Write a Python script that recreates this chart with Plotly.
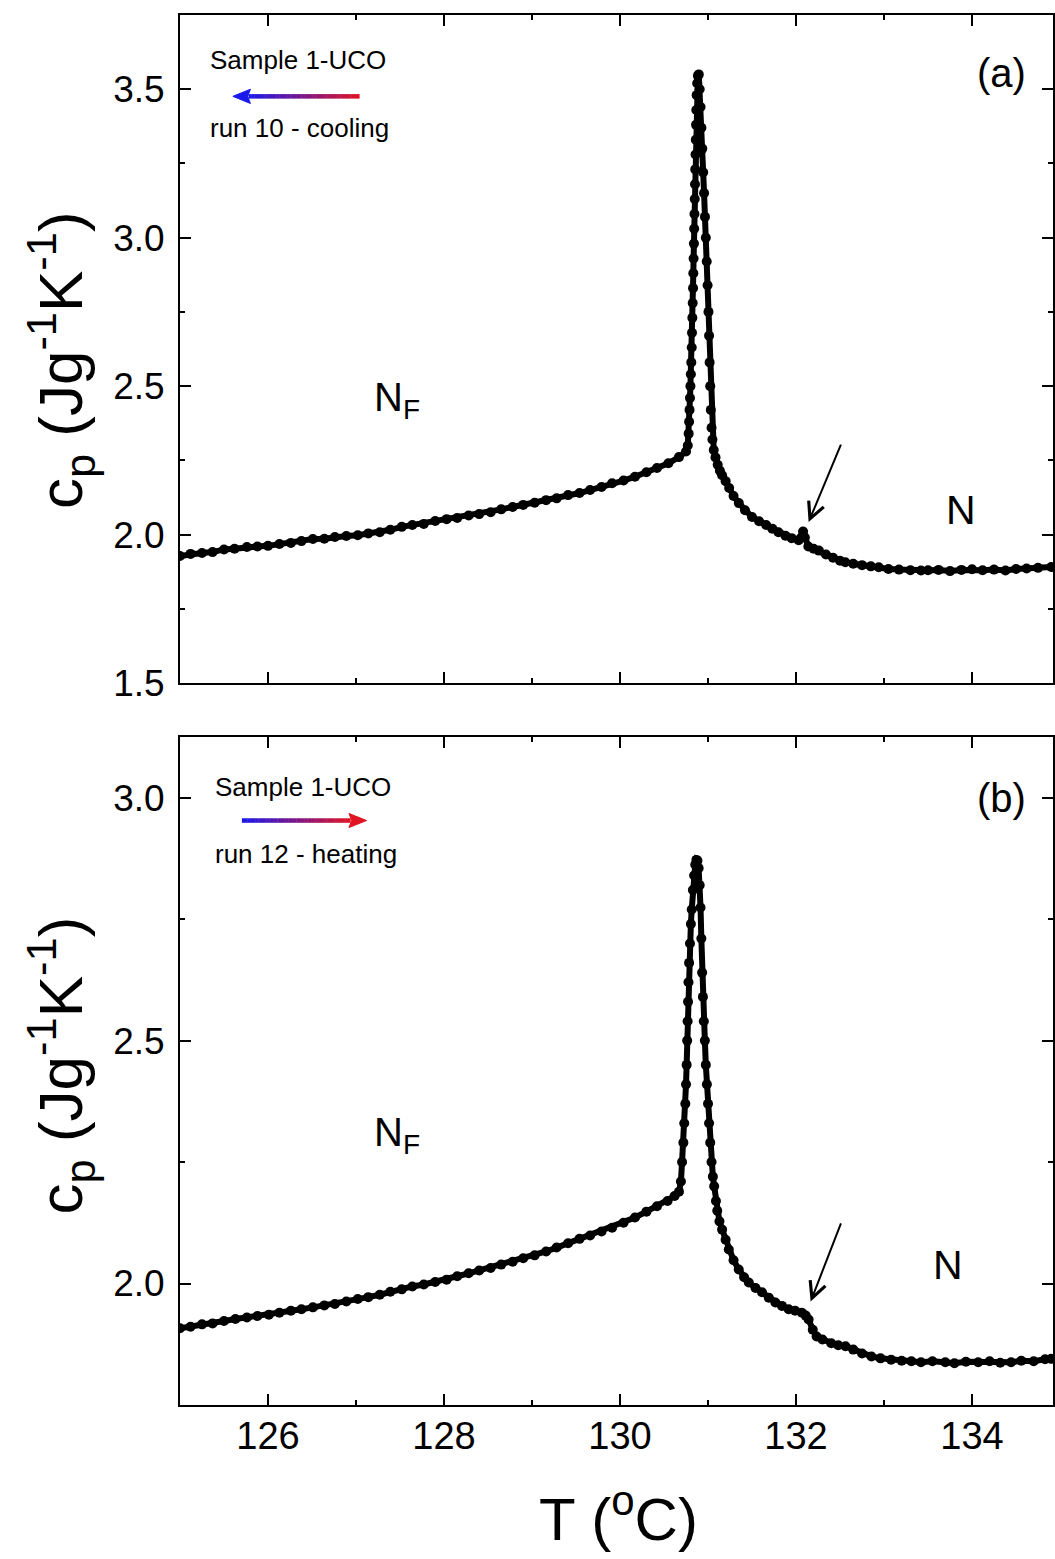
import plotly.graph_objects as go

# ---------------- data ----------------
T_a = [125.00,125.12,125.25,125.37,125.50,125.62,125.76,125.88,126.00,126.13,126.26,126.38,126.51,126.64,
       126.76,126.89,127.02,127.14,127.27,127.39,127.52,127.64,127.77,127.90,128.03,128.15,128.28,128.40,
       128.53,128.65,128.78,128.90,129.03,129.16,129.28,129.41,129.54,129.66,129.79,129.91,130.04,130.17,
       130.30,130.42,130.55,130.67,130.75,130.77,
       130.780,130.785,130.790,130.795,130.800,130.805,130.810,130.815,130.818,130.822,130.826,130.830,
       130.833,130.836,130.840,130.843,130.846,130.849,130.852,130.855,130.858,130.861,130.864,130.867,
       130.871,130.877,130.885,130.895,
       130.905,130.915,130.925,130.935,130.945,130.955,130.965,130.975,130.985,130.995,131.005,131.012,
       131.018,131.025,131.032,131.040,131.050,131.065,131.085,131.110,131.135,131.160,131.200,131.240,
       131.290,131.350,131.420,131.500,131.580,131.660,131.730,131.800,131.880,131.950,132.030,132.060,
       132.080,132.100,132.140,132.200,132.260,132.340,132.420,132.500,132.560,132.650,132.750,132.850,
       132.940,133.050,133.170,133.300,133.420,133.500,133.620,133.750,133.880,134.000,134.120,134.250,
       134.380,134.500,134.620,134.750,134.900]
cp_a = [1.928,1.935,1.938,1.941,1.950,1.952,1.958,1.960,1.962,1.968,1.972,1.978,1.985,1.986,
        1.992,1.995,1.998,2.004,2.008,2.016,2.026,2.032,2.036,2.046,2.052,2.056,2.064,2.069,
        2.075,2.085,2.093,2.100,2.107,2.116,2.122,2.133,2.140,2.150,2.160,2.173,2.182,2.195,
        2.210,2.224,2.240,2.261,2.280,2.300,
        2.34,2.38,2.42,2.46,2.50,2.54,2.58,2.63,2.68,2.73,2.78,2.83,
        2.88,2.93,2.98,3.03,3.08,3.13,3.18,3.23,3.28,3.33,3.38,3.43,
        3.48,3.52,3.545,3.550,
        3.50,3.44,3.37,3.30,3.22,3.15,3.07,3.00,2.92,2.84,2.75,2.67,
        2.58,2.50,2.42,2.36,2.32,2.285,2.260,2.235,2.215,2.200,2.180,2.157,
        2.130,2.106,2.082,2.059,2.045,2.032,2.020,2.008,1.996,1.988,1.981,1.990,
        2.010,1.990,1.960,1.952,1.946,1.933,1.922,1.912,1.907,1.902,1.897,1.893,
        1.890,1.884,1.882,1.880,1.879,1.880,1.881,1.877,1.881,1.883,1.880,1.882,
        1.879,1.884,1.886,1.888,1.891]

T_b = [125.00,125.12,125.25,125.37,125.50,125.63,125.76,125.88,126.01,126.13,126.26,126.38,126.51,126.64,
       126.76,126.89,127.02,127.14,127.27,127.39,127.52,127.64,127.77,127.90,128.03,128.15,128.28,128.40,
       128.53,128.65,128.78,128.90,129.03,129.16,129.28,129.41,129.54,129.66,129.79,129.91,130.04,130.17,
       130.30,130.42,130.54,130.62,130.67,
       130.692,130.705,130.720,130.730,130.742,130.750,130.757,130.763,130.768,130.773,130.778,130.785,
       130.795,130.805,130.815,130.828,130.842,130.855,130.868,130.880,130.893,
       130.905,130.915,130.924,130.933,130.942,130.952,130.964,130.975,130.987,131.000,131.012,131.025,
       131.040,131.055,131.070,131.090,131.105,131.130,131.160,131.200,131.236,131.290,131.349,131.410,
       131.463,131.540,131.613,131.690,131.765,131.840,131.916,131.990,132.067,132.110,132.143,132.190,
       132.234,132.300,132.400,132.480,132.562,132.650,132.750,132.857,132.960,133.080,133.200,133.311,
       133.420,133.550,133.696,133.800,133.930,134.070,134.200,134.320,134.444,134.560,134.700,134.830,
       134.900]
cp_b = [1.908,1.911,1.916,1.918,1.923,1.927,1.930,1.933,1.936,1.940,1.944,1.947,1.951,1.955,
        1.958,1.963,1.968,1.972,1.977,1.983,1.988,1.994,1.998,2.003,2.008,2.015,2.021,2.027,
        2.032,2.039,2.045,2.052,2.058,2.066,2.074,2.083,2.092,2.099,2.107,2.115,2.125,2.136,
        2.148,2.159,2.170,2.180,2.189,
        2.21,2.25,2.29,2.33,2.37,2.41,2.45,2.50,2.54,2.58,2.62,2.66,
        2.70,2.74,2.77,2.81,2.84,2.862,2.872,2.870,2.855,
        2.82,2.774,2.71,2.64,2.59,2.54,2.50,2.45,2.41,2.37,2.33,2.29,
        2.25,2.22,2.20,2.170,2.150,2.128,2.111,2.090,2.070,2.048,2.029,2.013,
        2.002,1.991,1.982,1.971,1.961,1.954,1.947,1.944,1.940,1.934,1.926,1.905,
        1.891,1.885,1.877,1.873,1.871,1.864,1.856,1.850,1.846,1.843,1.841,1.840,
        1.838,1.840,1.838,1.836,1.839,1.838,1.840,1.837,1.838,1.841,1.840,1.844,
        1.845]

x_ticks = [126, 128, 130, 132, 134]
x_range = [125, 134.92]
ya_range = [1.5, 3.75]
yb_range = [1.75, 3.125]

FONT = "Liberation Sans, Arial, sans-serif"

fig = go.Figure()
mk = dict(color="black", size=10)
ln = dict(color="black", width=6)
fig.add_trace(go.Scatter(x=T_a, y=cp_a, mode="lines+markers", marker=mk, line=ln,
                         xaxis="x", yaxis="y", showlegend=False))
fig.add_trace(go.Scatter(x=T_b, y=cp_b, mode="lines+markers", marker=mk, line=ln,
                         xaxis="x2", yaxis="y2", showlegend=False))

axis_common = dict(showline=True, linewidth=2, linecolor="black", mirror="allticks",
                   ticks="inside", ticklen=11, tickwidth=2, tickcolor="black",
                   showgrid=False, zeroline=False,
                   tickfont=dict(family=FONT, size=37, color="black"))

fig.update_layout(
    width=1055, height=1559,
    margin=dict(l=180, r=0, t=15, b=154),
    plot_bgcolor="white", paper_bgcolor="white",
    xaxis=dict(axis_common, domain=[0, 1], anchor="y", range=x_range, tickvals=x_ticks,
               showticklabels=False,
               minor=dict(ticks="inside", ticklen=5, tickwidth=1.5, tickcolor="black", dtick=1, tick0=125)),
    yaxis=dict(axis_common, domain=[0.5194, 1], anchor="x", range=ya_range, tick0=1.5, dtick=0.5,
               tickformat=".1f", ticklabelstandoff=6,
               minor=dict(ticks="inside", ticklen=5, tickwidth=1.5, tickcolor="black", dtick=0.25, tick0=1.5)),
    xaxis2=dict(axis_common, domain=[0, 1], anchor="y2", range=x_range, tickvals=x_ticks,
                showticklabels=True, ticklabelstandoff=-4,
                tickfont=dict(family=FONT, size=38, color="black"),
                minor=dict(ticks="inside", ticklen=5, tickwidth=1.5, tickcolor="black", dtick=1, tick0=125)),
    yaxis2=dict(axis_common, domain=[0, 0.4806], anchor="x2", range=yb_range, tick0=2.0, dtick=0.5,
                tickformat=".1f", ticklabelstandoff=6,
                minor=dict(ticks="inside", ticklen=5, tickwidth=1.5, tickcolor="black", dtick=0.25, tick0=1.75)),
)

ann = []
def txt(x, y, t, size, xr="x", yr="y", xa="center"):
    ann.append(dict(x=x, y=y, xref=xr, yref=yr, text=t, showarrow=False,
                    font=dict(family=FONT, size=size, color="black"),
                    xanchor=xa, yanchor="middle"))

# panel (a)
txt(125.317, 3.598, "Sample 1-UCO", 26, xa="left")
txt(125.317, 3.369, "run 10 - cooling", 26, xa="left")
txt(134.33, 3.554, "(a)", 40)
txt(127.47, 2.453, "N<sub>F</sub>", 40)
txt(133.87, 2.083, "N", 41)
# panel (b)
txt(125.374, 3.023, "Sample 1-UCO", 26, "x2", "y2", xa="left")
txt(125.374, 2.885, "run 12 - heating", 26, "x2", "y2", xa="left")
txt(134.33, 3.000, "(b)", 40, "x2", "y2")
txt(127.47, 2.306, "N<sub>F</sub>", 40, "x2", "y2")
txt(133.73, 2.039, "N", 41, "x2", "y2")

# axis titles
ytitle = "c<sub>p</sub> (Jg<sup>-1</sup>K<sup>-1</sup>)"
for yc in (0.752, 0.2446):
    ann.append(dict(x=-0.137, y=yc, xref="paper", yref="paper", text=ytitle, showarrow=False,
                    textangle=-90, font=dict(family=FONT, size=62, color="black"),
                    xanchor="center", yanchor="middle"))
ann.append(dict(x=0.502, y=-0.0792, xref="paper", yref="paper", text="T (<sup>o</sup>C)",
                showarrow=False, font=dict(family=FONT, size=60, color="black"),
                xanchor="center", yanchor="middle"))

# black pointer arrows
ann.append(dict(x=132.143, y=2.042, ax=132.517, ay=2.308, xref="x", yref="y", axref="x", ayref="y",
                showarrow=True, arrowhead=5, arrowsize=1.6, arrowwidth=2, arrowcolor="black", text=""))
ann.append(dict(x=132.166, y=1.963, ax=132.517, ay=2.127, xref="x2", yref="y2", axref="x2", ayref="y2",
                showarrow=True, arrowhead=5, arrowsize=1.6, arrowwidth=2, arrowcolor="black", text=""))
fig.update_layout(annotations=ann)

# gradient arrows (blue -> red)
def grad_color(f):
    b = (25, 25, 235); r = (225, 20, 35)
    c = [int(b[i] + (r[i] - b[i]) * f) for i in range(3)]
    return "rgb(%d,%d,%d)" % tuple(c)

shapes = []
def grad_shaft(x0, x1, y, xr, yr, n=40):
    for i in range(n):
        xa = x0 + (x1 - x0) * i / n
        xb = x0 + (x1 - x0) * (i + 1.15) / n
        shapes.append(dict(type="line", x0=xa, x1=min(xb, x1), y0=y, y1=y, xref=xr, yref=yr,
                           line=dict(color=grad_color((i + 0.5) / n), width=4.5)))

# (a) cooling: head on the left (blue)
grad_shaft(125.78, 127.041, 3.476, "x", "y")
shapes.append(dict(type="path", xref="x", yref="y",
                   path="M 125.601 3.476 L 125.80 3.500 L 125.77 3.476 L 125.80 3.452 Z",
                   fillcolor=grad_color(0.0), line=dict(color=grad_color(0.0), width=1)))
# (b) heating: head on the right (red)
grad_shaft(125.703, 126.94, 2.953, "x2", "y2")
shapes.append(dict(type="path", xref="x2", yref="y2",
                   path="M 127.120 2.953 L 126.92 2.9675 L 126.95 2.953 L 126.92 2.9385 Z",
                   fillcolor=grad_color(1.0), line=dict(color=grad_color(1.0), width=1)))
fig.update_layout(shapes=shapes)

fig.write_html("out.html")
